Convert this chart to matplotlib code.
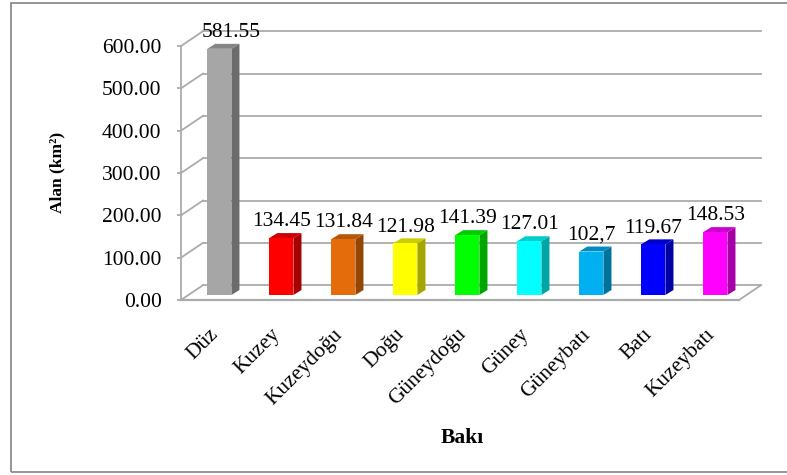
import matplotlib
matplotlib.use("Agg")
import matplotlib.pyplot as plt
import matplotlib.transforms as mtransforms
from matplotlib.patches import Polygon, Rectangle
import numpy as np

# --------------------------------------------------------------------------- #
# Data
# --------------------------------------------------------------------------- #
aspects = ["Düz", "Kuzey", "Kuzeydoğu", "Doğu", "Güneydoğu",
           "Güney", "Güneybatı", "Batı", "Kuzeybatı"]
areas = [581.55, 134.45, 131.84, 121.98, 141.39, 127.01, 102.7, 119.67, 148.53]
area_labels = ["581.55", "134.45", "131.84", "121.98", "141.39",
               "127.01", "102,7", "119.67", "148.53"]
bar_colors = ["#A6A6A6", "#FF0000", "#E46C0A", "#FFFF00", "#00FF00",
              "#00FFFF", "#00B0F0", "#0000FF", "#FF00FF"]
y_ticks = [0, 100, 200, 300, 400, 500, 600]

# --------------------------------------------------------------------------- #
# Layout / 3D look
# --------------------------------------------------------------------------- #
W, H, DPI = 787, 475, 100
FONT = "Liberation Serif"
GRID = "#ABABAB"

BACK_DX, BACK_DY = 0.355, 35.0     # offset of back wall (category units, data units)
BAR_DX, BAR_DY = 0.118, 11.8       # bar sits one third into the depth
DEPTH_DX, DEPTH_DY = 0.13, 11.8    # bar depth
BAR_W = 0.39


def shade(color, k):
    rgb = np.array(matplotlib.colors.to_rgb(color))
    return tuple(rgb * k)


fig = plt.figure(figsize=(W / DPI, H / DPI), dpi=DPI)
ax = fig.add_axes([181 / W, 175 / H, 558 / W, 254 / H])
ax.set_xlim(-0.5, len(aspects) - 0.5)
ax.set_ylim(0, 600)

x0, x1 = -0.5, len(aspects) - 0.5

# back wall gridlines + side wall diagonals
for v in y_ticks:
    ax.plot([x0 + BACK_DX, x1 + BACK_DX], [v + BACK_DY, v + BACK_DY],
            color=GRID, lw=1.3, clip_on=False, zorder=1)
    ax.plot([x0, x0 + BACK_DX], [v, v + BACK_DY],
            color=GRID, lw=1.3, clip_on=False, zorder=1)

# floor: front edge and right edge
ax.plot([x0, x1], [0, 0], color=GRID, lw=1.6, clip_on=False, zorder=1)
ax.plot([x1, x1 + BACK_DX], [0, BACK_DY], color=GRID, lw=1.3,
        clip_on=False, zorder=1)

# 3D bars
for i, (v, c) in enumerate(zip(areas, bar_colors)):
    cx = i + BAR_DX
    bx0, bx1 = cx - BAR_W / 2, cx + BAR_W / 2
    by0, by1 = BAR_DY, BAR_DY + v
    side = [(bx1, by0), (bx1 + DEPTH_DX, by0 + DEPTH_DY),
            (bx1 + DEPTH_DX, by1 + DEPTH_DY), (bx1, by1)]
    top = [(bx0, by1), (bx1, by1), (bx1 + DEPTH_DX, by1 + DEPTH_DY),
           (bx0 + DEPTH_DX, by1 + DEPTH_DY)]
    ax.add_patch(Polygon(side, closed=True, fc=shade(c, 0.65), ec="none",
                         clip_on=False, zorder=3))
    ax.add_patch(Polygon(top, closed=True, fc=shade(c, 0.8), ec="none",
                         clip_on=False, zorder=3))
    ax.add_patch(Rectangle((bx0, by0), BAR_W, v, fc=c, ec="none",
                           clip_on=False, zorder=4))
    # the tall first label is nudged right, clear of the axis corner
    dx = 8.5 if i == 0 else 0
    ax.annotate(area_labels[i], (cx, by1), xytext=(dx, 8.5),
                textcoords="offset points", ha="center", va="baseline",
                fontsize=15.5, family=FONT, zorder=5, annotation_clip=False)

# axes styling
for s in ["top", "right", "bottom"]:
    ax.spines[s].set_visible(False)
ax.spines["left"].set_color(GRID)
ax.spines["left"].set_linewidth(1.3)
ax.patch.set_visible(False)

ax.set_yticks(y_ticks)
ax.set_yticklabels([f"{t:.2f}" for t in y_ticks], family=FONT, fontsize=15.5)
ax.tick_params(axis="y", length=3, width=1.3, color=GRID, pad=11)

ax.set_xticks(range(len(aspects)))
ax.set_xticklabels(aspects, family=FONT, fontsize=15.5, rotation=45,
                   ha="right", va="top", rotation_mode="anchor")
ax.tick_params(axis="x", length=0, pad=18)
shift = mtransforms.ScaledTranslation(-3 / DPI, 0, fig.dpi_scale_trans)
for lbl in ax.get_xticklabels():
    lbl.set_transform(lbl.get_transform() + shift)

# axis titles
fig.text(462 / W, 1 - 438 / H, "Bakı", family=FONT, fontsize=15.5,
         fontweight="bold", ha="center", va="center")
fig.text(57 / W, 1 - 172 / H, "Alan (km²)", family=FONT, fontsize=12.5,
         fontweight="bold", ha="center", va="center", rotation=90)

# outer frame
fig.add_artist(Rectangle((11 / W, 3 / H), 1.0, 1 - 6 / H,
                         transform=fig.transFigure, fill=False,
                         ec="#8C8C8C", lw=1.3))

fig.savefig("out.png", dpi=DPI)
